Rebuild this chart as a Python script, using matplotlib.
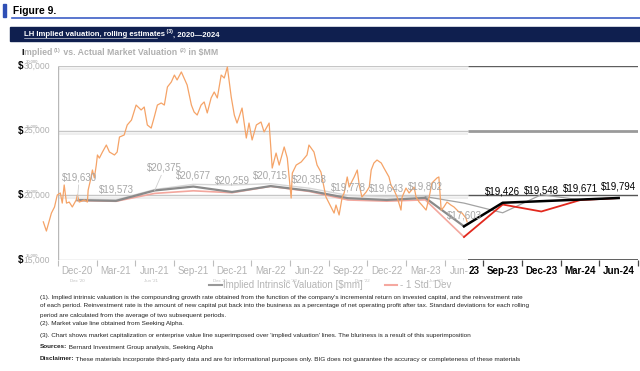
import numpy as np
import matplotlib.pyplot as plt
import matplotlib.transforms as mtransforms
from matplotlib.lines import TICKDOWN, Line2D
from matplotlib.patches import Rectangle
from matplotlib.text import Annotation

plt.rcParams['font.family'] = ['Liberation Sans', 'DejaVu Sans']

# ============================================================
# Data
# ============================================================

quarters = ["Dec-20", "Mar-21", "Jun-21", "Sep-21", "Dec-21", "Mar-22", "Jun-22",
            "Sep-22", "Dec-22", "Mar-23", "Jun-23", "Sep-23", "Dec-23", "Mar-24", "Jun-24"]

# implied valuation, older rolling estimate (faded chart), Dec-20 .. Jun-23
implied_old = [19630, 19573, 20375, 20677, 20259, 20715, 20358, 19778, 19643, 19802, 17603]
std_old     = [19600, 19540, 20150, 20350, 20200, 20700, 20300, 19640, 19550, 19650, 16780]
upper_old   = [19700, 19650, 20450, 20850, 20800, 20900, 20550, 20000, 19900, 19900, 19400,
               18650, 20050, 19650]

# current estimate, Jun-23 .. Jun-24
implied_new = [17603, 19426, 19548, 19671, 19794]
std_new     = [16780, 19290, 18750, 19630, 19790]

# market value ($MM), x in quarter units (0 = Dec-20)
mv_x = [-0.88, -0.80, -0.67, -0.59, -0.52, -0.44, -0.39, -0.34, -0.28, -0.21, -0.13, -0.03,
        0.00, 0.05, 0.18, 0.26, 0.28, 0.34, 0.39, 0.44, 0.49, 0.52, 0.57, 0.65, 0.75, 0.83,
        0.96, 1.03, 1.09, 1.21, 1.29, 1.40, 1.52, 1.60, 1.65, 1.73, 1.81, 1.91, 1.99, 2.07,
        2.17, 2.25, 2.33, 2.43, 2.51, 2.58, 2.69, 2.76, 2.84, 2.95, 3.02, 3.10, 3.20, 3.28,
        3.36, 3.46, 3.54, 3.62, 3.72, 3.80, 3.88, 3.93, 3.98, 4.06, 4.13, 4.26, 4.37, 4.44,
        4.52, 4.63, 4.75, 4.83, 4.96, 5.04, 5.14, 5.22, 5.35, 5.43, 5.53, 5.56, 5.66, 5.79,
        5.94, 5.99, 6.12, 6.20, 6.30, 6.43, 6.51, 6.64, 6.69, 6.77, 6.85, 6.90, 6.98, 7.03,
        7.08, 7.16, 7.24, 7.29, 7.36, 7.47, 7.55, 7.60, 7.67, 7.75, 7.86, 7.93, 8.06, 8.11,
        8.19, 8.27, 8.37, 8.40, 8.50, 8.58, 8.71, 8.76, 8.84, 8.91, 9.02, 9.10, 9.17, 9.30,
        9.35, 9.41, 9.48, 9.56, 9.66, 9.74, 9.87, 9.95, 10.05, 10.08]
mv_val = [17950, 17240, 18630, 19100, 20020, 20180, 19400, 20800, 19400, 19480, 19100, 19640,
          20020, 19480, 19640, 19480, 20410, 21180, 21960, 21340, 22340, 23120, 22880, 23350,
          23890, 23350, 23120, 23350, 24510, 24660, 25440, 25820, 26980, 26750, 26600, 26830,
          25440, 25200, 26060, 26980, 27140, 26980, 28380, 28760, 29300, 28920, 29540, 29070,
          28530, 26980, 26440, 26210, 26980, 27220, 26370, 27530, 27990, 27530, 29300, 29070,
          29920, 28760, 27600, 26210, 25590, 26750, 24430, 25590, 24280, 25440, 25670, 24900,
          25590, 22110, 23270, 22340, 23740, 22880, 19790, 21720, 22340, 22580, 23120, 23890,
          23350, 22340, 21800, 19870, 19400, 18630, 19250, 18480, 19870, 20180, 21420, 20640,
          20950, 21420, 21960, 20800, 19870, 20260, 20640, 21960, 22500, 22730, 22500, 22110,
          21420, 20800, 20410, 19870, 18860, 19870, 20560, 20180, 20640, 19870, 19480, 19250,
          18860, 19870, 20950, 21340, 21420, 18860, 19100, 19480, 19250, 19100, 18710, 18630,
          18240, 17950]

y_ticks = [15000, 20000, 25000, 30000]
small_ticks = ["Dec '20", "Jun '21", "Dec '21", "Jun '22", "Dec '22", "Jun '23"]
small_tick_x = [0, 1.91, 3.70, 5.50, 7.36, 9.28]

footnotes = [
    "(1). Implied intrinsic valuation is the compounding growth rate obtained from the function of the company's incremental return on invested capital, and the reinvestment rate",
    "of each period. Reinvestment rate is the amount of new capital put back into the business as a percentage of net operating profit after tax. Standard deviations for each rolling",
    "period are calculated from the average of two subsequent periods.",
    "(2). Market value line obtained from Seeking Alpha.",
    "(3). Chart shows market capitalization or enterprise value line superimposed over 'implied valuation' lines. The bluriness is a result of this superimposition",
]

# ============================================================
# Figure
# ============================================================

W, H = 640, 371
fig = plt.figure(figsize=(6.4, 3.71), dpi=100)


def fx(px):
    return px / W


def fy(py):
    return 1 - py / H


ax = fig.add_axes([fx(58), fy(260), fx(638) - fx(58), fy(66) - fy(260)])
ax.set_xlim(-0.5, 14.5)
ax.set_ylim(15000, 30000)
ax.axis("off")
ax.patch.set_visible(False)

SPLIT = 10.1
shift_down = mtransforms.offset_copy(ax.transData, fig=fig, x=0, y=-3, units="dots")

# grid lines: faded (old) part and current part
for v in [30000, 25000, 20000]:
    ax.hlines(v, -0.5, SPLIT, color="#c6c6c6", lw=1.0, zorder=1)
    ax.hlines(v, -0.5, SPLIT, color="#ebebeb", lw=1.2, zorder=1, transform=shift_down)
ax.hlines(30000, SPLIT, 14.5, color="#5e5e5e", lw=1.0, zorder=1)
ax.hlines(25000, SPLIT, 14.5, color="#9a9a9a", lw=2.0, zorder=1)
ax.hlines(20000, SPLIT, 14.5, color="#555555", lw=1.0, zorder=1)
ax.vlines(-0.5, 15000, 30000, color="#b8b8b8", lw=1.0, zorder=1)
ax.hlines(15000, -0.5, SPLIT, color="#c4c4c4", lw=1.0, zorder=1)
ax.hlines(15000, SPLIT, 14.5, color="#444444", lw=1.2, zorder=1)

tick_x = np.arange(-0.5, 15, 1.0)
left_t = tick_x[tick_x < SPLIT]
right_t = tick_x[tick_x > SPLIT]
ax.plot(left_t, [15000] * len(left_t), ls="none", marker=TICKDOWN, ms=4, mew=0.8,
        color="#bdbdbd", clip_on=False, zorder=2)
ax.plot(right_t, [15000] * len(right_t), ls="none", marker=TICKDOWN, ms=4, mew=0.9,
        color="#444444", clip_on=False, zorder=2)

# faded older estimate
x_old = np.arange(len(implied_old))
ax.plot(np.arange(10), upper_old[:10], color="#d6d6d6", lw=1.0, zorder=2)
ax.plot(np.arange(9, len(upper_old)), upper_old[9:], color="#a3a3a3", lw=0.9, zorder=2)
ax.plot(x_old, std_old, color="#f3a79e", lw=1.2, zorder=3)
ax.plot(x_old, implied_old, color="#8a8a8a", lw=1.6, zorder=3)

# market value
ax.plot(mv_x, mv_val, color="#f5a367", lw=0.9, zorder=4, clip_on=False)

# current estimate
x_new = np.arange(10, 10 + len(implied_new))
ax.plot(x_new, std_new, color="#e2281d", lw=1.3, zorder=5)
ax.plot(x_new, implied_new, color="black", lw=1.8, zorder=6)

# data labels
old_offsets = {0: (2, 23), 2: (10, 23)}
for i, v in enumerate(implied_old):
    dx, dy = old_offsets.get(i, (0, 11))
    arrow = dict(arrowstyle="-", color="#cfcfcf", lw=0.6, shrinkA=0, shrinkB=0) if i in old_offsets else None
    ax.annotate(f"${v:,.0f}", xy=(i, v), xytext=(dx, dy), textcoords="offset pixels",
                ha="center", va="center", fontsize=7, color="#a6a6a6", zorder=7,
                arrowprops=arrow)
for i, v in zip(x_new[1:], implied_new[1:]):
    ax.annotate(f"${v:,.0f}", xy=(i, v), xytext=(0, 11), textcoords="offset pixels",
                ha="center", va="center", fontsize=7, color="black", zorder=7)

# x tick labels
for i, q in enumerate(quarters):
    if i < 10:
        ax.annotate(q, xy=(i, 15000), xytext=(0, -11), textcoords="offset pixels",
                    ha="center", va="center", fontsize=7, color="#b3b3b3", annotation_clip=False)
    elif i == 10:
        ax.annotate(q[:4], xy=(i, 15000), xytext=(5, -11), textcoords="offset pixels",
                    ha="right", va="center", fontsize=7, color="#b3b3b3", annotation_clip=False)
        ax.annotate(q[4:], xy=(i, 15000), xytext=(5, -11), textcoords="offset pixels",
                    ha="left", va="center", fontsize=7, color="black", fontweight="bold",
                    annotation_clip=False)
    else:
        ax.annotate(q, xy=(i, 15000), xytext=(0, -11), textcoords="offset pixels",
                    ha="center", va="center", fontsize=7, color="black", fontweight="bold",
                    annotation_clip=False)

for s, x in zip(small_ticks, small_tick_x):
    ax.annotate(s, xy=(x, 15000), xytext=(0, -21), textcoords="offset pixels",
                ha="center", va="center", fontsize=3.2, color="#c0c0c0", annotation_clip=False)

# y tick labels ($ in black, number in gray, small ghost label above)
yblend = mtransforms.blended_transform_factory(ax.transAxes, ax.transData)
for v in y_ticks:
    ax.annotate(f"{v:,}", xy=(0, v), xycoords=yblend, xytext=(-8, 0), textcoords="offset pixels",
                ha="right", va="center", fontsize=6.2, color="#b0b0b0", annotation_clip=False)
    ax.annotate("$", xy=(0, v), xycoords=yblend, xytext=(-35, 0), textcoords="offset pixels",
                ha="right", va="center", fontsize=7, color="black", fontweight="bold",
                annotation_clip=False)
    ax.annotate(f"{v:,}", xy=(0, v), xycoords=yblend, xytext=(-26, 4), textcoords="offset pixels",
                ha="center", va="center", fontsize=3, color="#9a9a9a", annotation_clip=False)

# ============================================================
# Header
# ============================================================

fig.patches.append(Rectangle((fx(3), fy(17)), fx(3), fy(4) - fy(17), transform=fig.transFigure,
                             color="#2f4fb5", zorder=1))
fig.lines.append(Line2D([fx(12), 1], [fy(17.5), fy(17.5)], transform=fig.transFigure,
                        color="#3d5fc6", lw=1.2))
fig.text(fx(13), fy(11), "Figure 9.", fontsize=7.4, fontweight="bold", va="center", ha="left")

fig.patches.append(Rectangle((fx(10), fy(41)), 1 - fx(10), fy(27) - fy(41), transform=fig.transFigure,
                             color="#0f1f4f", zorder=1))


def chain(first, pieces):
    # lay text pieces one after another, all on the baseline row of `first`
    t = first
    for s, kw in pieces:
        kw = dict(kw)
        dy = kw.pop("dy", 0)
        t = Annotation(s, xy=(1, 0), xycoords=(t, first), xytext=(0, dy),
                       textcoords="offset points", ha="left", va="bottom", **kw)
        fig.add_artist(t)
    return t


ban = dict(color="white", fontweight="bold")
t0 = fig.text(fx(24), fy(38.5), "LH Implied valuation, rolling estimates", fontsize=5.6,
              va="bottom", ha="left", **ban)
chain(t0, [(" (3)", dict(fontsize=3.8, dy=3, **ban)), (", 2020\u20142024", dict(fontsize=5.6, **ban))])
fig.lines.append(Line2D([fx(24), fx(157)], [fy(38.3), fy(38.3)], transform=fig.transFigure,
                        color="white", lw=0.4))

sub = dict(color="#b0b0b0", fontweight="bold")
s0 = fig.text(fx(21), fy(57), "I", fontsize=6.3, va="bottom", ha="left", color="black",
              fontweight="bold")
chain(s0, [("mplied ", dict(fontsize=6.3, **sub)), ("(1)", dict(fontsize=4, dy=3, **sub)),
           (" vs. Actual Market Valuation ", dict(fontsize=6.3, **sub)),
           ("(2)", dict(fontsize=4, dy=3, **sub)), (" in $MM", dict(fontsize=6.3, **sub))])

# ============================================================
# Legend and footnotes
# ============================================================

fig.lines.append(Line2D([fx(209), fx(222)], [fy(285), fy(285)], transform=fig.transFigure,
                        color="#999999", lw=1.5))
fig.text(fx(223), fy(285), "Implied Intrinsic Valuation [$mm]", fontsize=7, color="#b5b5b5",
         va="center", ha="left")
fig.lines.append(Line2D([fx(385), fx(397)], [fy(285), fy(285)], transform=fig.transFigure,
                        color="#f5a8a0", lw=1.5))
fig.text(fx(400), fy(285), "- 1 Std. Dev", fontsize=7, color="#b5b5b5", va="center", ha="left")

FS = 4.6
note_y = [297, 306, 315, 323.5, 335]
for s, y in zip(footnotes, note_y):
    fig.text(fx(40), fy(y), s, fontsize=FS, color="#222222", va="center", ha="left")

f1 = fig.text(fx(40), fy(347), "Sources:", fontsize=FS, fontweight="bold", color="#222222",
              va="center", ha="left")
fig.add_artist(Annotation(" Bernard Investment Group analysis, Seeking Alpha", xy=(1, 0.5),
                          xycoords=f1, ha="left", va="center", fontsize=FS, color="#222222"))
f2 = fig.text(fx(40), fy(359), "Disclaimer:", fontsize=FS, fontweight="bold", color="#222222",
              va="center", ha="left")
fig.add_artist(Annotation(" These materials incorporate third-party data and are for informational "
                          "purposes only. BIG does not guarantee the accuracy or completeness of "
                          "these materials", xy=(1, 0.5), xycoords=f2, ha="left", va="center",
                          fontsize=FS, color="#222222"))

fig.savefig("out.png", dpi=100)
